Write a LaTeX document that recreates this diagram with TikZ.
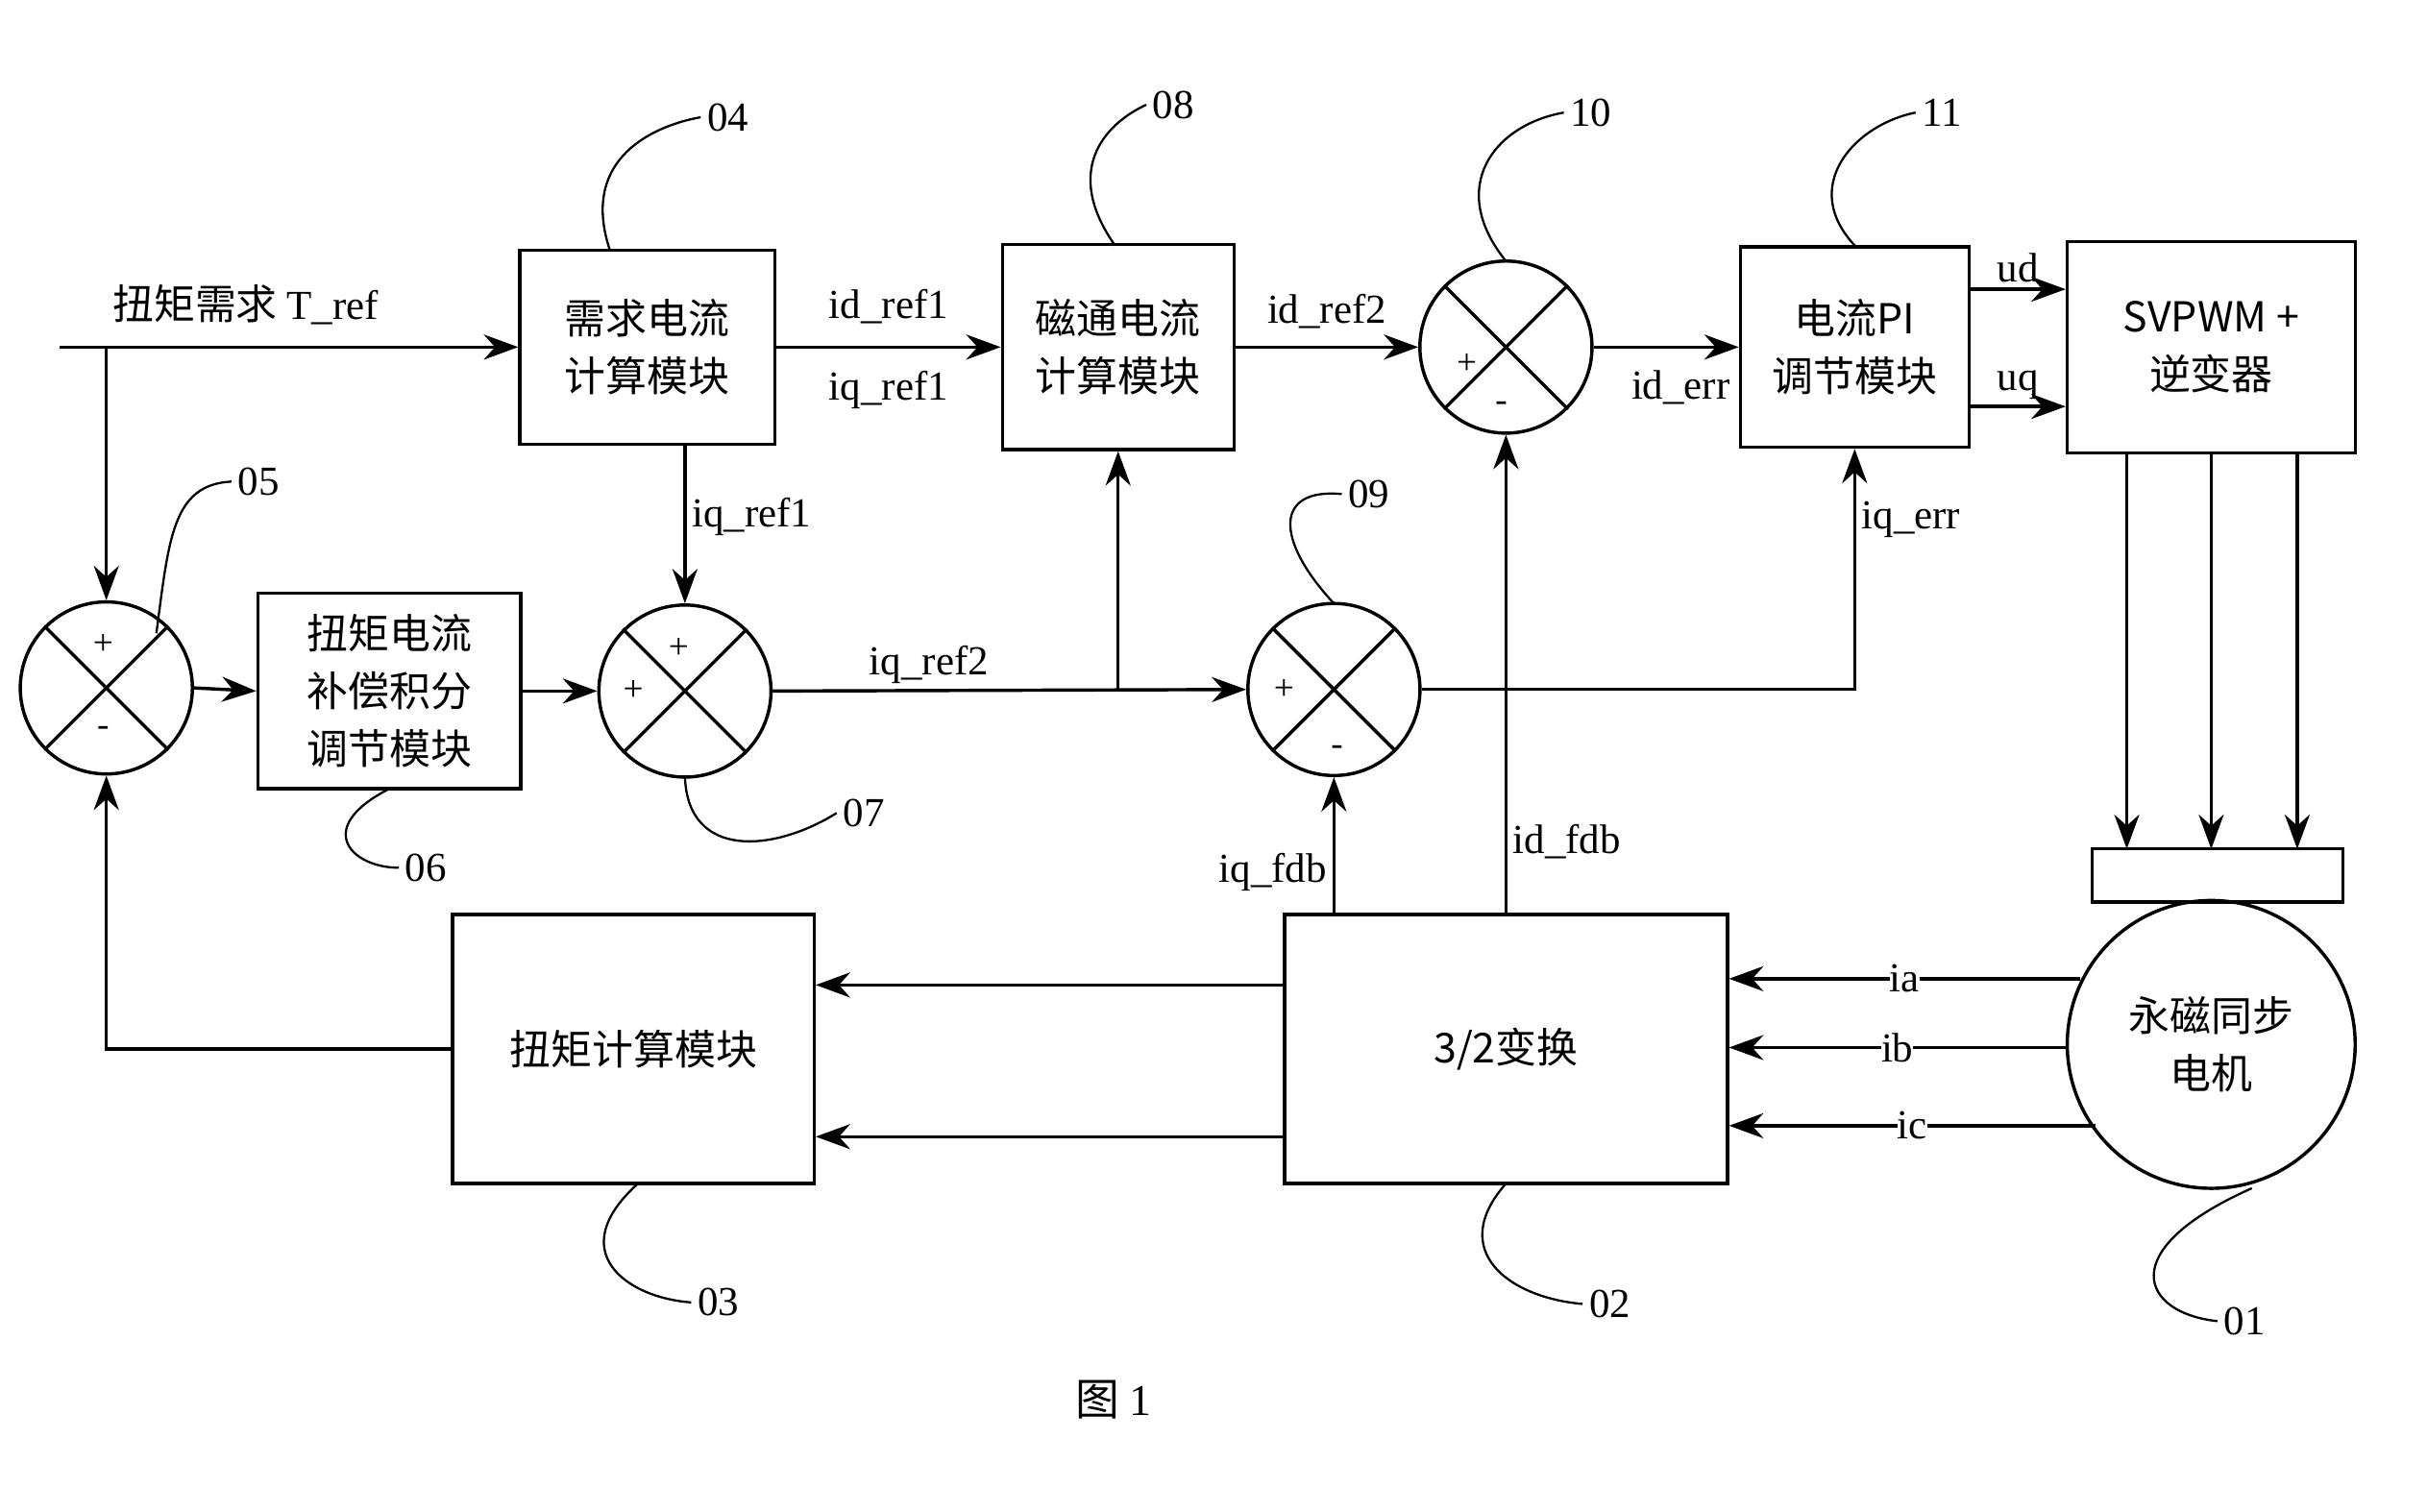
\documentclass[tikz,border=0pt]{standalone}
\usepackage{fontspec}
\setmainfont{Liberation Serif}
\newfontfamily\cjk{Noto Sans CJK SC}
\usetikzlibrary{arrows.meta,positioning}
\tikzset{
  blk/.style={draw, semithick, align=center, inner sep=0pt, font=\cjk\fontsize{7.5}{10.5}\selectfont},
  sumnode/.style={draw, semithick, circle, minimum size=1.1cm, inner sep=0pt},
  flow/.style={semithick, -{Stealth[length=2.2mm,width=1.6mm]}},
  lbl/.style={font=\fontsize{7.5}{9}\selectfont, inner sep=1pt},
  sgn/.style={font=\fontsize{6.5}{8}\selectfont, inner sep=0pt},
  lead/.style={thin}
}
\newcommand{\crossit}[1]{\draw[semithick] (#1.45) -- (#1.225) (#1.135) -- (#1.315);}
\begin{document}
\begin{tikzpicture}[x=0.01cm,y=-0.01cm]
  \useasboundingbox (0,0) rectangle (1552,967);
  % blocks
  \node[blk, minimum width=1.63cm, minimum height=1.24cm] (b04) at (414,222) {需求电流\\计算模块};
  \node[blk, minimum width=1.48cm, minimum height=1.31cm] (b08) at (715,222) {磁通电流\\计算模块};
  \node[blk, minimum width=1.46cm, minimum height=1.28cm] (b11) at (1186,222) {电流PI\\调节模块};
  \node[blk, minimum width=1.84cm, minimum height=1.35cm] (svp) at (1414,222) {SVPWM +\\逆变器};
  \node[blk, minimum width=1.68cm, minimum height=1.25cm] (b06) at (249,442) {扭矩电流\\补偿积分\\调节模块};
  \node[blk, minimum width=2.31cm, minimum height=1.72cm] (b03) at (405,671) {扭矩计算模块};
  \node[blk, minimum width=2.83cm, minimum height=1.72cm] (b02) at (963,671) {3/2变换};
  \node[blk, circle, minimum size=1.84cm] (mot) at (1414,668) {永磁同步\\电机};
  \node[draw, semithick, minimum width=1.6cm, minimum height=0.34cm] (enc) at (1418,560) {};
  % summing junctions
  \node[sumnode] (s05) at (68,440) {};
  \node[sumnode] (s07) at (438,442) {};
  \node[sumnode] (s09) at (853,441) {};
  \node[sumnode] (s10) at (963,222) {};
  \crossit{s05} \crossit{s07} \crossit{s09} \crossit{s10}
  \node[sgn] at (66,412) {+};
  \node[sgn] at (66,468) {-};
  \node[sgn] at (434,415) {+};
  \node[sgn] at (405,442) {+};
  \node[sgn] at (821,441) {+};
  \node[sgn] at (855,480) {-};
  \node[sgn] at (938,233) {+};
  \node[sgn] at (960,260) {-};
  % input
  \coordinate (tin) at (38,222);
  \coordinate (tsplit) at (68,222);
  \node[lbl, font=\cjk\fontsize{7.5}{9}\selectfont] (tref) at (157,195) {扭矩需求 \rmfamily T\_ref};
  \draw[flow] (tin) -- (b04.west);
  \draw[flow] (tsplit) -- (s05.north);
  \draw[flow] (s05.east) -- (b06.west);
  \draw[flow] (b06.east) -- (s07.west);
  \draw[flow] (s07 |- b04.south) -- node[lbl, right, pos=0.45] {iq\_ref1} (s07.north);
  \draw[flow] (b04.east) -- node[lbl, above=3pt] {id\_ref1} node[lbl, below=3pt] {iq\_ref1} (b08.west);
  \draw[flow] (b08.east) -- node[lbl, above=2pt] {id\_ref2} (s10.west);
  \draw[flow] (s07.east) -- node[lbl, above, pos=0.33] {iq\_ref2} (s09.west);
  \coordinate (qsplit) at (715,441);
  \draw[flow] (qsplit) -- (b08.south);
  \draw[flow] (s10.east) -- node[lbl, below=3pt, pos=0.6] {id\_err} (b11.west);
  \draw[flow] (s09.east) -| node[lbl, above right, pos=0.8] {iq\_err} (b11.south);
  \draw[flow] (b11.north east |- 0,185) -- node[lbl, above] {ud} (svp.north west |- 0,185);
  \draw[flow] (b11.north east |- 0,260) -- node[lbl, above] {uq} (svp.north west |- 0,260);
  \foreach \xx in {1360,1414,1469}
    \draw[flow] (\xx,290) -- (\xx,543);
  \draw[flow] (b02.north -| s09) -- node[lbl, left, pos=0.3] {iq\_fdb} (s09.south);
  \draw[flow] (b02.north) -- node[lbl, right, pos=0.15] {id\_fdb} (s10.south);
  \draw[flow] (1330,626) -- node[lbl, fill=white, inner sep=0pt] {ia} (b02.east |- 0,626);
  \draw[flow] (mot.west |- 0,670) -- node[lbl, fill=white, inner sep=0pt] {ib} (b02.east |- 0,670);
  \draw[flow] (1340,720) -- node[lbl, fill=white, inner sep=0pt] {ic} (b02.east |- 0,720);
  \draw[flow] (b02.west |- 0,630) -- (b03.east |- 0,630);
  \draw[flow] (b02.west |- 0,727) -- (b03.east |- 0,727);
  \draw[flow] (b03.west) -| (s05.south);
  % leaders
  \draw[lead] (390,160) .. controls (370,100) and (420,80) .. (448,75) node[lbl, right] {04};
  \draw[lead] (713,157) .. controls (680,110) and (705,80) .. (733,67) node[lbl, right] {08};
  \draw[lead] (963,167) .. controls (925,120) and (955,80) .. (1000,72) node[lbl, right] {10};
  \draw[lead] (1187,158) .. controls (1150,120) and (1185,80) .. (1225,72) node[lbl, right] {11};
  \draw[lead] (100,405) .. controls (108,345) and (110,310) .. (148,308) node[lbl, right] {05};
  \draw[lead] (853,386) .. controls (815,345) and (815,312) .. (858,316) node[lbl, right] {09};
  \draw[lead] (248,505) .. controls (200,530) and (225,555) .. (255,555) node[lbl, right] {06};
  \draw[lead] (438,497) .. controls (440,550) and (495,545) .. (535,520) node[lbl, right] {07};
  \draw[lead] (408,757) .. controls (360,800) and (400,830) .. (442,833) node[lbl, right] {03};
  \draw[lead] (963,757) .. controls (925,800) and (965,830) .. (1012,834) node[lbl, right] {02};
  \draw[lead] (1440,760) .. controls (1350,800) and (1370,840) .. (1418,845) node[lbl, right] {01};
  \node[font=\cjk\fontsize{8}{10}\selectfont] (cap) at (712,895) {图 \rmfamily 1};
\end{tikzpicture}
\end{document}
